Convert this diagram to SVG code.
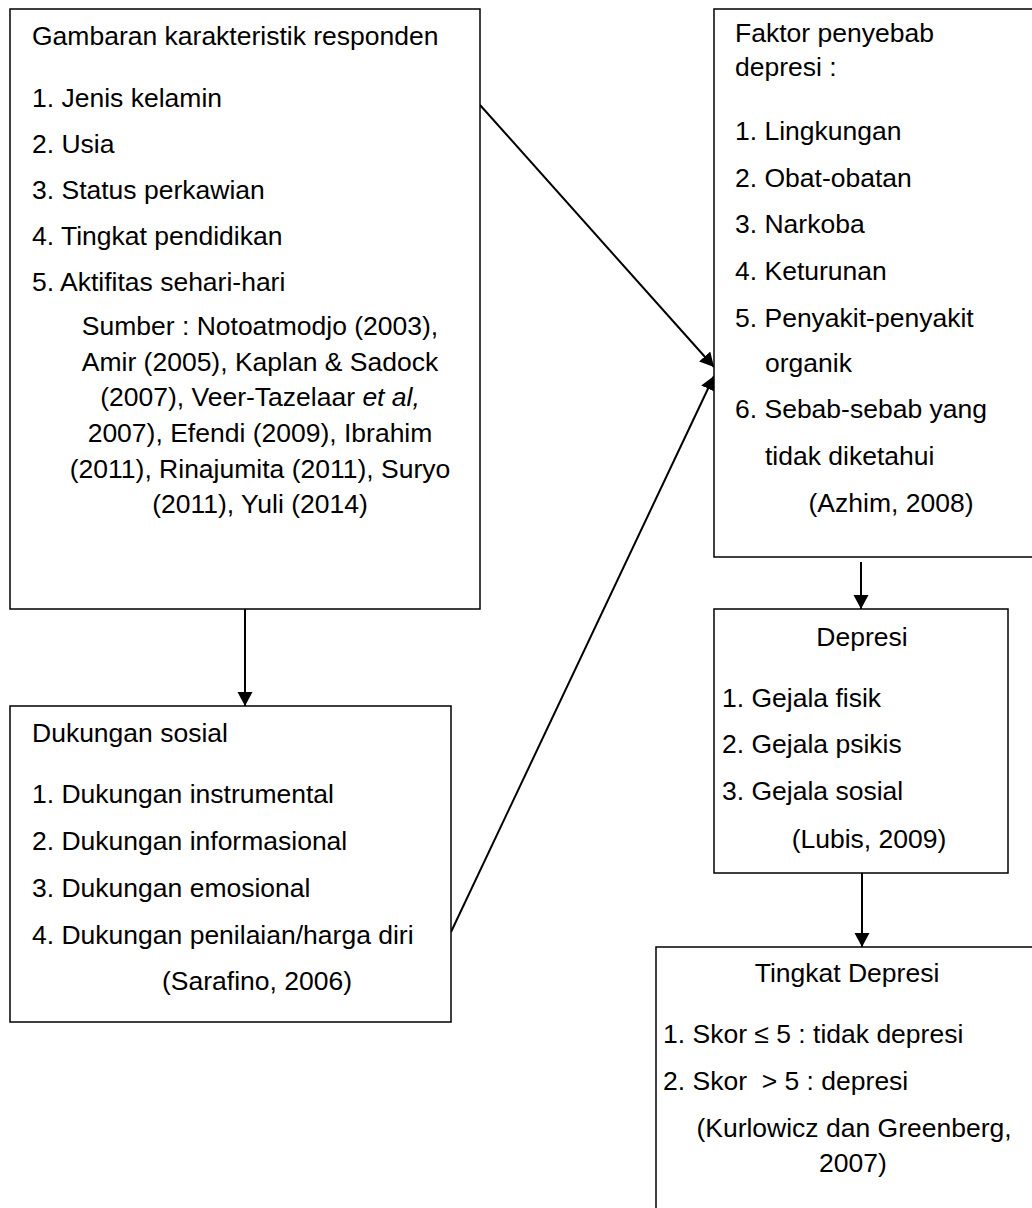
<svg xmlns="http://www.w3.org/2000/svg" width="1032" height="1208" viewBox="0 0 1032 1208">
<style>
.box{fill:#fff;stroke:#000;stroke-width:1.5}
.t{font-family:"Liberation Sans",Arial,sans-serif;font-size:26.5px;fill:#000}
.c{text-anchor:middle}
.ln{stroke:#000;stroke-width:2;fill:none}
</style>
<defs>
<marker id="ah" markerUnits="userSpaceOnUse" markerWidth="16" markerHeight="16" refX="14" refY="7.5" orient="auto">
<path d="M0,0 L14,7.5 L0,15 z" fill="#000"/>
</marker>
</defs>
<rect width="1032" height="1208" fill="#fff"/>
<g id="connectors">
<line class="ln" x1="245" y1="609" x2="245" y2="706" marker-end="url(#ah)"/>
<line class="ln" x1="480" y1="105" x2="714" y2="367" marker-end="url(#ah)"/>
<line class="ln" x1="451" y1="932" x2="714" y2="376" marker-end="url(#ah)"/>
<line class="ln" x1="861" y1="562" x2="861" y2="609" marker-end="url(#ah)"/>
<line class="ln" x1="862" y1="873" x2="862" y2="947" marker-end="url(#ah)"/>
</g>
<g id="node-karakteristik">
<rect class="box" x="10" y="9" width="470" height="600"/>
<text class="t" x="32" y="45">Gambaran karakteristik responden</text>
<text class="t" x="32" y="107">1. Jenis kelamin</text>
<text class="t" x="32" y="153">2. Usia</text>
<text class="t" x="32" y="199">3. Status perkawian</text>
<text class="t" x="32" y="245">4. Tingkat pendidikan</text>
<text class="t" x="32" y="291">5. Aktifitas sehari-hari</text>
<text class="t c" x="260" y="335">Sumber : Notoatmodjo (2003),</text>
<text class="t c" x="260" y="371">Amir (2005), Kaplan &amp; Sadock</text>
<text class="t c" x="260" y="406">(2007), Veer-Tazelaar <tspan font-style="italic">et al,</tspan></text>
<text class="t c" x="260" y="442">2007), Efendi (2009), Ibrahim</text>
<text class="t c" x="260" y="478">(2011), Rinajumita (2011), Suryo</text>
<text class="t c" x="260" y="513">(2011), Yuli (2014)</text>
</g>
<g id="node-dukungan">
<rect class="box" x="10" y="706" width="441" height="316"/>
<text class="t" x="32" y="742">Dukungan sosial</text>
<text class="t" x="32" y="803">1. Dukungan instrumental</text>
<text class="t" x="32" y="850">2. Dukungan informasional</text>
<text class="t" x="32" y="897">3. Dukungan emosional</text>
<text class="t" x="32" y="944">4. Dukungan penilaian/harga diri</text>
<text class="t c" x="257" y="990">(Sarafino, 2006)</text>
</g>
<g id="node-faktor">
<rect class="box" x="714" y="9" width="330" height="548"/>
<text class="t" x="735" y="42">Faktor penyebab</text>
<text class="t" x="735" y="76">depresi :</text>
<text class="t" x="735" y="140">1. Lingkungan</text>
<text class="t" x="735" y="187">2. Obat-obatan</text>
<text class="t" x="735" y="233">3. Narkoba</text>
<text class="t" x="735" y="280">4. Keturunan</text>
<text class="t" x="735" y="327">5. Penyakit-penyakit</text>
<text class="t" x="765" y="372">organik</text>
<text class="t" x="735" y="418">6. Sebab-sebab yang</text>
<text class="t" x="765" y="465">tidak diketahui</text>
<text class="t c" x="891" y="512">(Azhim, 2008)</text>
</g>
<g id="node-depresi">
<rect class="box" x="714" y="609" width="294" height="264"/>
<text class="t c" x="862" y="646">Depresi</text>
<text class="t" x="722" y="707">1. Gejala fisik</text>
<text class="t" x="722" y="753">2. Gejala psikis</text>
<text class="t" x="722" y="800">3. Gejala sosial</text>
<text class="t c" x="869" y="848">(Lubis, 2009)</text>
</g>
<g id="node-tingkat">
<rect class="box" x="656" y="947" width="400" height="300"/>
<text class="t c" x="847" y="982">Tingkat Depresi</text>
<text class="t" x="663" y="1043">1. Skor ≤ 5 : tidak depresi</text>
<text class="t" x="663" y="1090" xml:space="preserve">2. Skor  &gt; 5 : depresi</text>
<text class="t c" x="854" y="1137">(Kurlowicz dan Greenberg,</text>
<text class="t c" x="853" y="1172">2007)</text>
</g>
</svg>
